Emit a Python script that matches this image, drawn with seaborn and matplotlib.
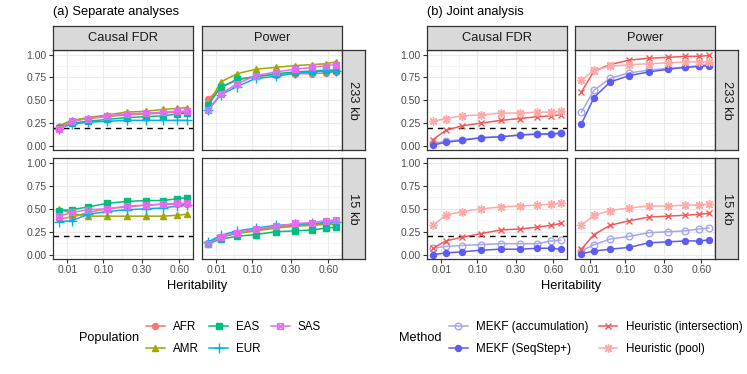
import numpy as np
import pandas as pd
import matplotlib
matplotlib.use("Agg")
import matplotlib.pyplot as plt
import seaborn as sns
from matplotlib.path import Path

# heritability grid (x values)
h2 = [0.0025, 0.016, 0.05, 0.115, 0.21, 0.33, 0.46, 0.58, 0.67]

populations = ["AFR", "AMR", "EAS", "EUR", "SAS"]
methods = ["MEKF (accumulation)", "MEKF (SeqStep+)",
           "Heuristic (intersection)", "Heuristic (pool)"]

# (a) separate analyses
sep_fdr_233 = {
    "AFR": [0.21, 0.27, 0.30, 0.32, 0.34, 0.35, 0.36, 0.37, 0.37],
    "AMR": [0.22, 0.28, 0.31, 0.34, 0.37, 0.38, 0.40, 0.41, 0.42],
    "EAS": [0.20, 0.25, 0.27, 0.29, 0.31, 0.32, 0.33, 0.35, 0.36],
    "EUR": [0.19, 0.24, 0.26, 0.27, 0.28, 0.28, 0.28, 0.28, 0.28],
    "SAS": [0.18, 0.27, 0.30, 0.33, 0.35, 0.36, 0.37, 0.38, 0.38],
}
sep_pow_233 = {
    "AFR": [0.51, 0.64, 0.72, 0.76, 0.78, 0.79, 0.79, 0.80, 0.81],
    "AMR": [0.45, 0.70, 0.79, 0.84, 0.86, 0.88, 0.89, 0.90, 0.92],
    "EAS": [0.45, 0.64, 0.73, 0.76, 0.79, 0.81, 0.82, 0.83, 0.83],
    "EUR": [0.39, 0.56, 0.65, 0.74, 0.76, 0.80, 0.81, 0.82, 0.82],
    "SAS": [0.39, 0.57, 0.68, 0.77, 0.81, 0.84, 0.86, 0.88, 0.89],
}
sep_fdr_15 = {
    "AFR": [0.39, 0.41, 0.46, 0.50, 0.52, 0.54, 0.55, 0.55, 0.55],
    "AMR": [0.50, 0.45, 0.42, 0.42, 0.42, 0.42, 0.42, 0.43, 0.44],
    "EAS": [0.48, 0.49, 0.52, 0.56, 0.58, 0.59, 0.59, 0.61, 0.62],
    "EUR": [0.36, 0.37, 0.44, 0.47, 0.49, 0.50, 0.51, 0.53, 0.54],
    "SAS": [0.42, 0.46, 0.49, 0.50, 0.53, 0.54, 0.55, 0.56, 0.56],
}
sep_pow_15 = {
    "AFR": [0.13, 0.19, 0.24, 0.27, 0.30, 0.32, 0.33, 0.34, 0.35],
    "AMR": [0.13, 0.19, 0.23, 0.26, 0.29, 0.31, 0.32, 0.33, 0.33],
    "EAS": [0.12, 0.17, 0.20, 0.22, 0.25, 0.26, 0.27, 0.29, 0.30],
    "EUR": [0.14, 0.21, 0.26, 0.29, 0.32, 0.33, 0.34, 0.35, 0.36],
    "SAS": [0.12, 0.19, 0.24, 0.28, 0.31, 0.34, 0.35, 0.37, 0.38],
}

# (b) joint analysis
joint_fdr_233 = {
    "MEKF (accumulation)": [0.03, 0.05, 0.07, 0.09, 0.10, 0.12, 0.13, 0.13, 0.14],
    "MEKF (SeqStep+)": [0.01, 0.04, 0.06, 0.09, 0.10, 0.12, 0.13, 0.13, 0.14],
    "Heuristic (intersection)": [0.07, 0.17, 0.22, 0.25, 0.28, 0.30, 0.32, 0.33, 0.34],
    "Heuristic (pool)": [0.27, 0.30, 0.33, 0.34, 0.36, 0.36, 0.37, 0.37, 0.38],
}
joint_pow_233 = {
    "MEKF (accumulation)": [0.37, 0.61, 0.74, 0.80, 0.83, 0.85, 0.86, 0.88, 0.89],
    "MEKF (SeqStep+)": [0.24, 0.53, 0.70, 0.77, 0.81, 0.84, 0.86, 0.87, 0.88],
    "Heuristic (intersection)": [0.59, 0.82, 0.89, 0.94, 0.96, 0.97, 0.98, 0.98, 0.99],
    "Heuristic (pool)": [0.72, 0.83, 0.87, 0.89, 0.90, 0.91, 0.92, 0.92, 0.92],
}
joint_fdr_15 = {
    "MEKF (accumulation)": [0.07, 0.09, 0.10, 0.11, 0.12, 0.12, 0.12, 0.15, 0.16],
    "MEKF (SeqStep+)": [0.00, 0.02, 0.03, 0.05, 0.06, 0.06, 0.07, 0.07, 0.06],
    "Heuristic (intersection)": [0.07, 0.15, 0.19, 0.23, 0.27, 0.28, 0.30, 0.32, 0.34],
    "Heuristic (pool)": [0.32, 0.43, 0.47, 0.50, 0.52, 0.53, 0.54, 0.55, 0.56],
}
joint_pow_15 = {
    "MEKF (accumulation)": [0.04, 0.11, 0.17, 0.20, 0.24, 0.25, 0.26, 0.28, 0.29],
    "MEKF (SeqStep+)": [0.01, 0.04, 0.06, 0.08, 0.13, 0.14, 0.15, 0.15, 0.16],
    "Heuristic (intersection)": [0.06, 0.22, 0.32, 0.37, 0.41, 0.42, 0.43, 0.44, 0.45],
    "Heuristic (pool)": [0.32, 0.43, 0.48, 0.51, 0.53, 0.53, 0.54, 0.54, 0.55],
}

fdr_target = 0.2


def to_long(d, region, metric):
    rows = []
    for k, vals in d.items():
        for x, v in zip(h2, vals):
            rows.append((k, region, metric, x, v))
    return rows


sep = pd.DataFrame(
    to_long(sep_fdr_233, "233 kb", "Causal FDR") + to_long(sep_pow_233, "233 kb", "Power")
    + to_long(sep_fdr_15, "15 kb", "Causal FDR") + to_long(sep_pow_15, "15 kb", "Power"),
    columns=["group", "region", "metric", "h2", "value"])
joint = pd.DataFrame(
    to_long(joint_fdr_233, "233 kb", "Causal FDR") + to_long(joint_pow_233, "233 kb", "Power")
    + to_long(joint_fdr_15, "15 kb", "Causal FDR") + to_long(joint_pow_15, "15 kb", "Power"),
    columns=["group", "region", "metric", "h2", "value"])

# boxed-x marker like ggplot shape 7
boxx = Path([(-1, -1), (1, -1), (1, 1), (-1, 1), (-1, -1), (-1, -1), (1, 1), (-1, 1), (1, -1)],
            [Path.MOVETO, Path.LINETO, Path.LINETO, Path.LINETO, Path.CLOSEPOLY,
             Path.MOVETO, Path.LINETO, Path.MOVETO, Path.LINETO])

pop_style = {
    "AFR": dict(color="#F8766D", marker="o", mfc="#F8766D", ms=4.3),
    "AMR": dict(color="#A3A500", marker="^", mfc="#A3A500", ms=4.8),
    "EAS": dict(color="#00BF7D", marker="s", mfc="#00BF7D", ms=4),
    "EUR": dict(color="#00B0F6", marker="+", mfc="#00B0F6", ms=6.5),
    "SAS": dict(color="#E76BF3", marker=boxx, mfc="none", ms=4.2),
}
meth_style = {
    "MEKF (accumulation)": dict(color="#A6A6EE", marker="o", mfc="none", ms=4.8),
    "MEKF (SeqStep+)": dict(color="#5C5CF2", marker="o", mfc="#5C5CF2", ms=4.3),
    "Heuristic (intersection)": dict(color="#F05A5A", marker="x", mfc="#F05A5A", ms=4.8),
    "Heuristic (pool)": dict(color="#FFA9A9", marker=(8, 2, 0), mfc="#FFA9A9", ms=6.3),
}

plt.rcParams["font.family"] = ["Liberation Sans", "DejaVu Sans"]
W, H = 747, 374
fig = plt.figure(figsize=(W / 100, H / 100), dpi=100)


def box(x0, y0, x1, y1):
    return [x0 / W, 1 - y1 / H, (x1 - x0) / W, (y1 - y0) / H]


rows_y = [(50, 150.5), (158.3, 259.3)]
strip_top = (26, 50)
regions = ["233 kb", "15 kb"]
metrics = ["Causal FDR", "Power"]
grey20, grey30 = "#333333", "#4D4D4D"

sq = lambda x: np.sqrt(np.clip(x, 0, None))
s_lo, s_hi = np.sqrt(min(h2)), np.sqrt(max(h2))
pad = 0.05 * (s_hi - s_lo)
xlim = ((s_lo - pad) ** 2, (s_hi + pad) ** 2)
xmaj = [0.01, 0.1, 0.3, 0.6]
xmin_ = [((np.sqrt(a) + np.sqrt(b)) / 2) ** 2 for a, b in zip(xmaj[:-1], xmaj[1:])]


def draw_block(df, styles, cols_x, strip_x, title, fontsize=9.3):
    handles = None
    for r, region in enumerate(regions):
        for c, metric in enumerate(metrics):
            x0, x1 = cols_x[c]
            y0, y1 = rows_y[r]
            ax = fig.add_axes(box(x0, y0, x1, y1))
            ax.set_xscale("function", functions=(sq, lambda s: s ** 2))
            sub = df[(df.region == region) & (df.metric == metric)]
            for g, st in styles.items():
                d = sub[sub.group == g]
                sns.lineplot(data=d, x="h2", y="value", ax=ax, color=st["color"],
                             marker=st["marker"], markersize=st["ms"], mfc=st["mfc"],
                             mec=st["color"], mew=1.0, lw=1.1, label=g, legend=False)
            if metric == "Causal FDR":
                ax.axhline(fdr_target, color="black", lw=1.0, dashes=(4, 3.5), zorder=1)
            ax.set_xlim(xlim)
            ax.set_ylim(-0.05, 1.05)
            ax.set_xticks(xmaj)
            ax.set_xticks(xmin_, minor=True)
            ax.set_yticks([0, 0.25, 0.5, 0.75, 1.0])
            ax.set_yticks([0.125, 0.375, 0.625, 0.875], minor=True)
            ax.grid(which="major", color="#EBEBEB", lw=0.8)
            ax.grid(which="minor", color="#F2F2F2", lw=0.5)
            ax.set_axisbelow(True)
            ax.set_xlabel("")
            ax.set_ylabel("")
            for sp in ax.spines.values():
                sp.set_color(grey20)
                sp.set_linewidth(0.9)
            ax.tick_params(which="major", length=2.75, width=0.8, color=grey20,
                           labelcolor=grey30, labelsize=7.5, pad=1.5)
            ax.tick_params(which="minor", length=0)
            if r == 1:
                ax.set_xticklabels(["0.01", "0.10", "0.30", "0.60"])
            else:
                ax.tick_params(axis="x", which="major", length=0, labelbottom=False)
            if c == 0:
                ax.set_yticklabels(["0.00", "0.25", "0.50", "0.75", "1.00"])
            else:
                ax.tick_params(axis="y", which="major", length=0, labelleft=False)
            if handles is None:
                handles = ax.get_legend_handles_labels()
            # top strips
            if r == 0:
                sa = fig.add_axes(box(x0, strip_top[0], x1, strip_top[1]))
                sa.set_facecolor("#D9D9D9")
                sa.set_xticks([]); sa.set_yticks([])
                for sp in sa.spines.values():
                    sp.set_color(grey20); sp.set_linewidth(0.9)
                sa.text(0.5, 0.5, metric, ha="center", va="center", fontsize=fontsize,
                        color="#1A1A1A", transform=sa.transAxes)
        # right strips
        sa = fig.add_axes(box(strip_x[0], rows_y[r][0], strip_x[1], rows_y[r][1]))
        sa.set_facecolor("#D9D9D9")
        sa.set_xticks([]); sa.set_yticks([])
        for sp in sa.spines.values():
            sp.set_color(grey20); sp.set_linewidth(0.9)
        sa.text(0.5, 0.5, region, ha="center", va="center", fontsize=fontsize,
                color="#1A1A1A", rotation=-90, transform=sa.transAxes)
    fig.text(cols_x[0][0] / W, 1 - 12 / H, title, ha="left", va="center", fontsize=fontsize)
    fig.text((cols_x[0][0] + cols_x[1][1]) / 2 / W, 1 - 286 / H, "Heritability",
             ha="center", va="center", fontsize=fontsize)
    return handles


h_sep = draw_block(sep, pop_style, [(52.7, 193), (201.7, 342)], (342, 365),
                   "(a) Separate analyses")
h_joint = draw_block(joint, meth_style, [(426.7, 567), (575, 715)], (715, 738),
                     "(b) Joint analysis")

leg_kw = dict(loc="center left", frameon=False, fontsize=8.4, handlelength=1.6,
              handletextpad=0.7, columnspacing=0.9, labelspacing=0.85,
              borderpad=0, borderaxespad=0)
fig.text(79 / W, 1 - 338 / H, "Population", ha="left", va="center", fontsize=9.2)
fig.legend(*h_sep, bbox_to_anchor=(146 / W, 1 - 338 / H), ncol=3, **leg_kw)
fig.text(399 / W, 1 - 338 / H, "Method", ha="left", va="center", fontsize=9.2)
fig.legend(*h_joint, bbox_to_anchor=(449 / W, 1 - 338 / H), ncol=2, **leg_kw)

fig.savefig("out.png", dpi=100)
